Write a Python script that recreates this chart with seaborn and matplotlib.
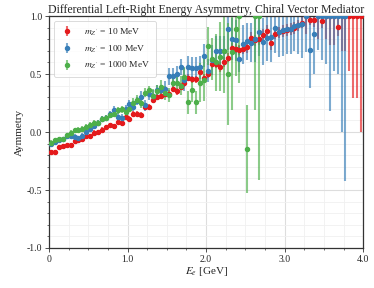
import numpy as np
import matplotlib
matplotlib.use("Agg")
import matplotlib.pyplot as plt
import matplotlib.ticker as mticker
import seaborn as sns

# binning: 80 bins of 0.05 GeV between 0 and 4 GeV
bin_edges = np.linspace(0.0, 4.0, 81)
e_centers = 0.5 * (bin_edges[:-1] + bin_edges[1:])

labels = [r"$m_{Z'}$ = 10 MeV", r"$m_{Z'}$ = 100 MeV", r"$m_{Z'}$ = 1000 MeV"]

# m_Z' = 10 MeV (80 bins)
asym_10 = [-0.17, -0.17, -0.125, -0.12, -0.115, -0.11, -0.075, -0.07, -0.06, -0.03,
           -0.035, -0.005, 0.0, 0.02, 0.045, 0.06, 0.05, 0.09, 0.075, 0.13,
           0.115, 0.16, 0.16, 0.145, 0.22, 0.22, 0.275, 0.30, 0.31, 0.33,
           0.33, 0.375, 0.35, 0.39, 0.42, 0.47, 0.455, 0.455, 0.52, 0.47,
           0.505, 0.59, 0.59, 0.56, 0.605, 0.64, 0.725, 0.72, 0.71, 0.72,
           0.73, 0.81, 0.79, 0.80, 0.84, 0.87, 0.765, 0.85, 0.86, 0.87,
           0.88, 0.89, 0.90, 0.92, 0.945, 1.0, 0.97, 0.965, 1.0, 0.955,
           1.0, 1.0, 1.0, 0.91, 1.0, 1.0, 1.0, 1.0, 1.0, 1.0]
err_10 = [0.015, 0.015, 0.015, 0.015, 0.015, 0.015, 0.015, 0.015, 0.015, 0.015,
          0.02, 0.02, 0.02, 0.02, 0.02, 0.02, 0.02, 0.02, 0.02, 0.02,
          0.025, 0.025, 0.025, 0.025, 0.025, 0.025, 0.025, 0.025, 0.025, 0.025,
          0.03, 0.03, 0.03, 0.03, 0.03, 0.03, 0.03, 0.03, 0.03, 0.035,
          0.035, 0.035, 0.035, 0.04, 0.04, 0.04, 0.04, 0.04, 0.045, 0.045,
          0.045, 0.05, 0.05, 0.05, 0.05, 0.05, 0.06, 0.05, 0.05, 0.05,
          0.05, 0.05, 0.05, 0.05, 0.05, 0.15, 0.05, 0.06, 0.2, 0.06,
          0.2, 0.25, 0.25, 0.08, 0.3, 0.3, 0.47, 0.71, 0.71, 1.0]

# m_Z' = 100 MeV (76 bins)
asym_100 = [-0.106, -0.089, -0.07, -0.06, -0.037, -0.035, -0.04, -0.055, -0.03, 0.0,
            0.023, 0.05, 0.08, 0.11, 0.12, 0.16, 0.19, 0.13, 0.125, 0.20,
            0.245, 0.22, 0.27, 0.30, 0.23, 0.33, 0.31, 0.36, 0.36, 0.37,
            0.48, 0.48, 0.50, 0.56, 0.45, 0.56, 0.55, 0.55, 0.56, 0.66,
            0.53, 0.62, 0.70, 0.70, 0.70, 0.885, 0.80, 0.79, 0.63, 0.756,
            0.785, 0.77, 0.80, 0.86, 0.78, 0.81, 0.82, 0.90, 0.865, 0.88,
            0.89, 0.89, 0.915, 0.92, 0.93, 1.0, 0.71, 0.85, 1.0, 1.0,
            1.0, 1.0, 1.0, 1.0, 1.0, 1.0]
err_100 = [0.02, 0.02, 0.02, 0.02, 0.02, 0.02, 0.02, 0.02, 0.025, 0.025,
           0.025, 0.025, 0.025, 0.025, 0.025, 0.025, 0.035, 0.035, 0.035, 0.035,
           0.035, 0.035, 0.035, 0.05, 0.05, 0.05, 0.05, 0.05, 0.05, 0.07,
           0.07, 0.07, 0.07, 0.07, 0.1, 0.1, 0.1, 0.1, 0.1, 0.1,
           0.1, 0.13, 0.13, 0.13, 0.13, 0.18, 0.18, 0.18, 0.11, 0.17,
           0.16, 0.17, 0.2, 0.2, 0.2, 0.2, 0.22, 0.22, 0.22, 0.22,
           0.22, 0.22, 0.22, 0.25, 0.29, 0.31, 0.33, 0.35, 0.29, 0.38,
           0.41, 0.82, 0.47, 0.5, 1.0, 1.42]

# m_Z' = 1000 MeV (54 bins, empty bins as nan)
asym_1000 = [-0.092, -0.069, -0.063, -0.063, -0.026, -0.006, 0.017, 0.02, 0.03, 0.046,
             0.06, 0.08, 0.075, 0.11, 0.12, 0.147, 0.16, 0.19, 0.195, 0.17,
             0.20, 0.25, 0.28, 0.25, 0.34, 0.36, 0.31, 0.35, 0.385, 0.34,
             0.32, 0.425, 0.425, 0.40, 0.477, 0.255, 0.36, 0.255, 0.425, 0.45,
             0.745, 0.63, 0.60, 0.65, 0.70, 0.50, 0.69, 0.885, 1.0, np.nan,
             -0.147, np.nan, 1.0, 1.0]
err_1000 = [0.02, 0.02, 0.02, 0.02, 0.02, 0.02, 0.02, 0.02, 0.025, 0.025,
            0.025, 0.025, 0.025, 0.025, 0.025, 0.03, 0.03, 0.03, 0.03, 0.03,
            0.03, 0.04, 0.04, 0.04, 0.04, 0.04, 0.06, 0.06, 0.06, 0.06,
            0.06, 0.08, 0.08, 0.08, 0.08, 0.1, 0.1, 0.1, 0.17, 0.18,
            0.165, 0.18, 0.25, 0.3, 0.36, 0.44, 0.5, 0.4, 0.58, np.nan,
            0.38, np.nan, 0.81, 1.41]

sns.set_theme(style="whitegrid")
plt.rcParams["font.family"] = ["Liberation Serif", "DejaVu Serif"]
plt.rcParams["mathtext.fontset"] = "stix"

colors = sns.color_palette("Set1", 3)

fig = plt.figure(figsize=(3.74, 2.88), dpi=100)
ax = fig.add_axes([0.131, 0.139, 0.840, 0.805])

series = [(asym_10, err_10), (asym_100, err_100), (asym_1000, err_1000)]
for (vals, errs), col, lab in zip(series, colors, labels):
    n = len(vals)
    cont = ax.errorbar(e_centers[:n], vals, yerr=errs, fmt="o", ms=2.9,
                       color=col, ecolor=col, elinewidth=1.5, capsize=0,
                       label=lab)
    cont.lines[0].set_zorder(3)
    for lc in cont.lines[2]:
        lc.set_alpha(0.65)
        lc.set_zorder(2)

ax.set_xlim(0, 4.0)
ax.set_ylim(-1.0, 1.0)
ax.xaxis.set_major_locator(mticker.MultipleLocator(1.0))
ax.xaxis.set_minor_locator(mticker.MultipleLocator(0.25))
ax.yaxis.set_major_locator(mticker.MultipleLocator(0.5))
ax.yaxis.set_minor_locator(mticker.MultipleLocator(0.1))
ax.xaxis.set_major_formatter(mticker.FuncFormatter(lambda v, p: "0" if v == 0 else f"{v:.1f}"))
ax.yaxis.set_major_formatter(mticker.FormatStrFormatter("%.1f"))

ax.grid(which="major", color="#dddddd", lw=0.8)
ax.grid(which="minor", color="#f0f0f0", lw=0.6)
ax.tick_params(which="major", direction="out", length=3, width=0.6, color="#333333",
               labelsize=7, pad=2, bottom=True, left=True)
ax.tick_params(which="minor", direction="out", length=1.5, width=0.5, color="#333333",
               bottom=True, left=True)
for sp in ax.spines.values():
    sp.set_color("#333333")
    sp.set_linewidth(0.9)

ax.set_title("Differential Left-Right Energy Asymmetry, Chiral Vector Mediator",
             fontsize=8.5, pad=2.5)
ax.set_xlabel(r"$E_e$ [GeV]", fontsize=8, labelpad=1)
ax.set_ylabel("Aymmetry", fontsize=8, labelpad=2)

leg = ax.legend(loc="upper left", fontsize=6.8, frameon=True, borderpad=0.6,
                handletextpad=1.0, labelspacing=0.6, handlelength=1.6)
leg.get_frame().set_edgecolor("#cccccc")
leg.get_frame().set_linewidth(0.6)

fig.savefig("out.png", dpi=100)
